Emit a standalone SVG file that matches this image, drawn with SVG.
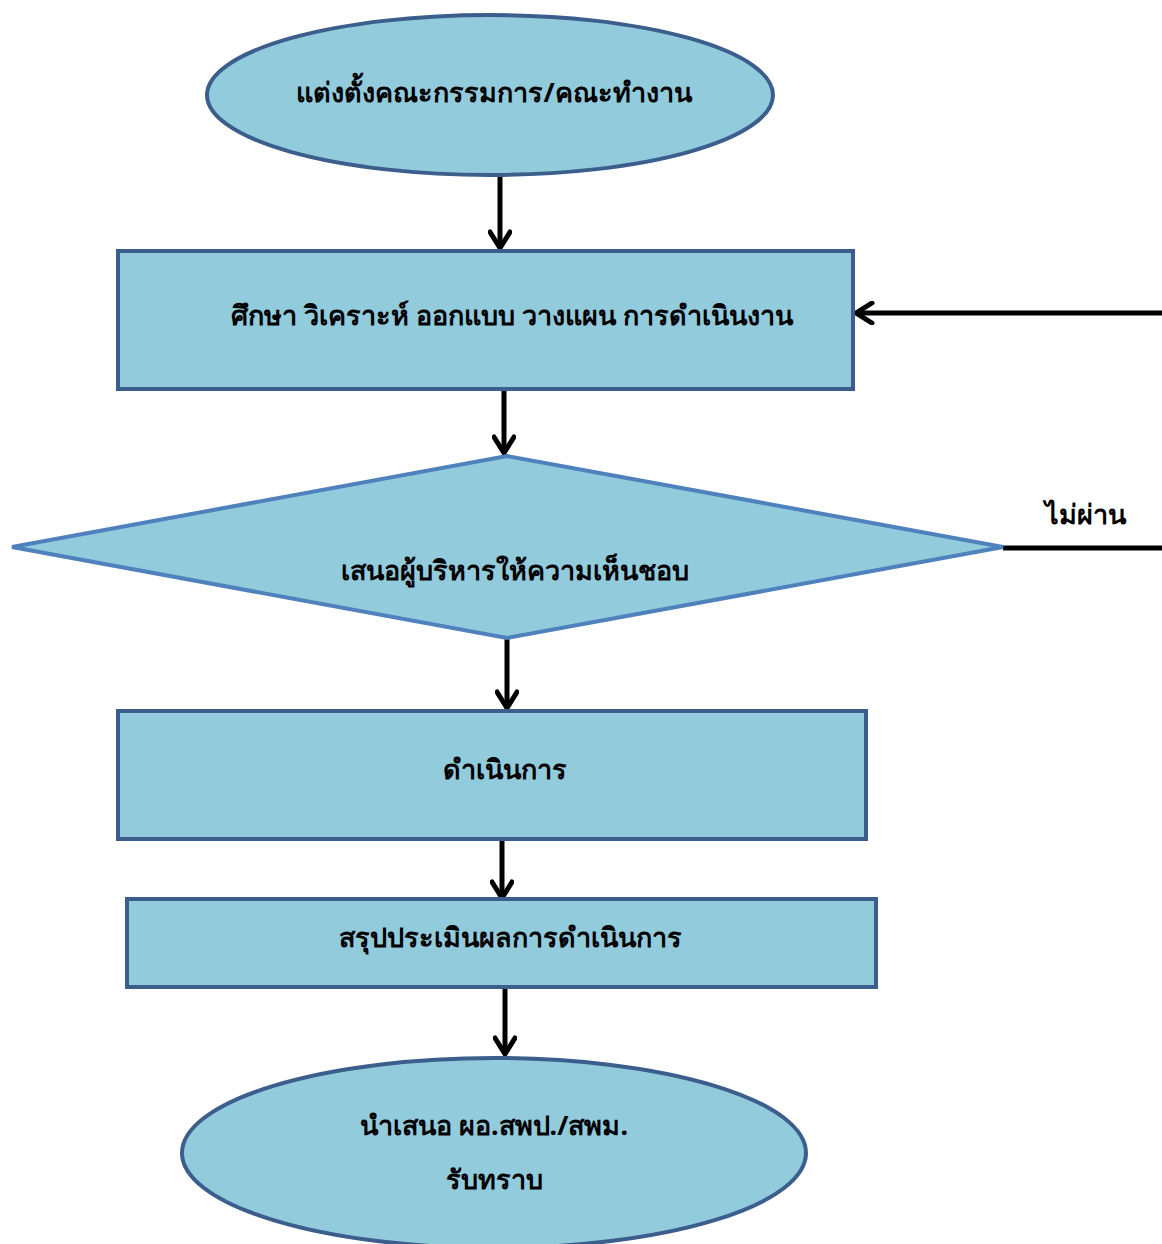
<svg xmlns="http://www.w3.org/2000/svg" width="1162" height="1244" viewBox="0 0 1162 1244">
<defs>
<style>
.n{fill:#92CBDC;stroke:#3B5E8C;stroke-width:4}
.d{fill:#92CBDC;stroke:#4F81BD;stroke-width:4}
.t{font-family:"Noto Sans","DejaVu Sans",sans-serif;font-size:27px;font-weight:bold;fill:#000;text-anchor:middle}
.c{fill:none;stroke:#000;stroke-width:5}
</style>
<marker id="ah" viewBox="0 0 24 24" refX="21" refY="12" markerWidth="24" markerHeight="24" markerUnits="userSpaceOnUse" orient="auto">
<path d="M5,2 L21,12 L5,22" fill="none" stroke="#000" stroke-width="5" stroke-linecap="round" stroke-linejoin="miter"/>
</marker>
</defs>
<rect width="1162" height="1244" fill="#fff"/>
<g id="connectors">
<line class="c" x1="500" y1="175" x2="500" y2="248" marker-end="url(#ah)"/>
<line class="c" x1="504" y1="389" x2="504" y2="453" marker-end="url(#ah)"/>
<line class="c" x1="507" y1="638" x2="507" y2="708" marker-end="url(#ah)"/>
<line class="c" x1="502" y1="839" x2="502" y2="898" marker-end="url(#ah)"/>
<line class="c" x1="505" y1="987" x2="505" y2="1054" marker-end="url(#ah)"/>
<line class="c" x1="1003" y1="548" x2="1162" y2="548"/>
<line class="c" x1="1162" y1="313" x2="856" y2="313" marker-end="url(#ah)"/>
<text class="t" x="1085" y="524">ไม่ผ่าน</text>
</g>
<g id="start">
<ellipse class="n" cx="490" cy="95" rx="283" ry="80"/>
<text class="t" x="494" y="102">แต่งตั้งคณะกรรมการ/คณะทำงาน</text>
</g>
<g id="study">
<rect class="n" x="118" y="251" width="735" height="138"/>
<text class="t" x="512" y="325">ศึกษา วิเคราะห์ ออกแบบ วางแผน การดำเนินงาน</text>
</g>
<g id="approve">
<polygon class="d" points="507,456 1003,547 507,638 12,547"/>
<text class="t" x="515" y="580">เสนอผู้บริหารให้ความเห็นชอบ</text>
</g>
<g id="execute">
<rect class="n" x="118" y="711" width="748" height="128"/>
<text class="t" x="505" y="779">ดำเนินการ</text>
</g>
<g id="evaluate">
<rect class="n" x="127" y="899" width="749" height="88"/>
<text class="t" x="510" y="947">สรุปประเมินผลการดำเนินการ</text>
</g>
<g id="end">
<ellipse class="n" cx="494" cy="1153" rx="312" ry="95"/>
<text class="t" x="494" y="1135">นำเสนอ ผอ.สพป./สพม.</text>
<text class="t" x="494" y="1189">รับทราบ</text>
</g>
</svg>
